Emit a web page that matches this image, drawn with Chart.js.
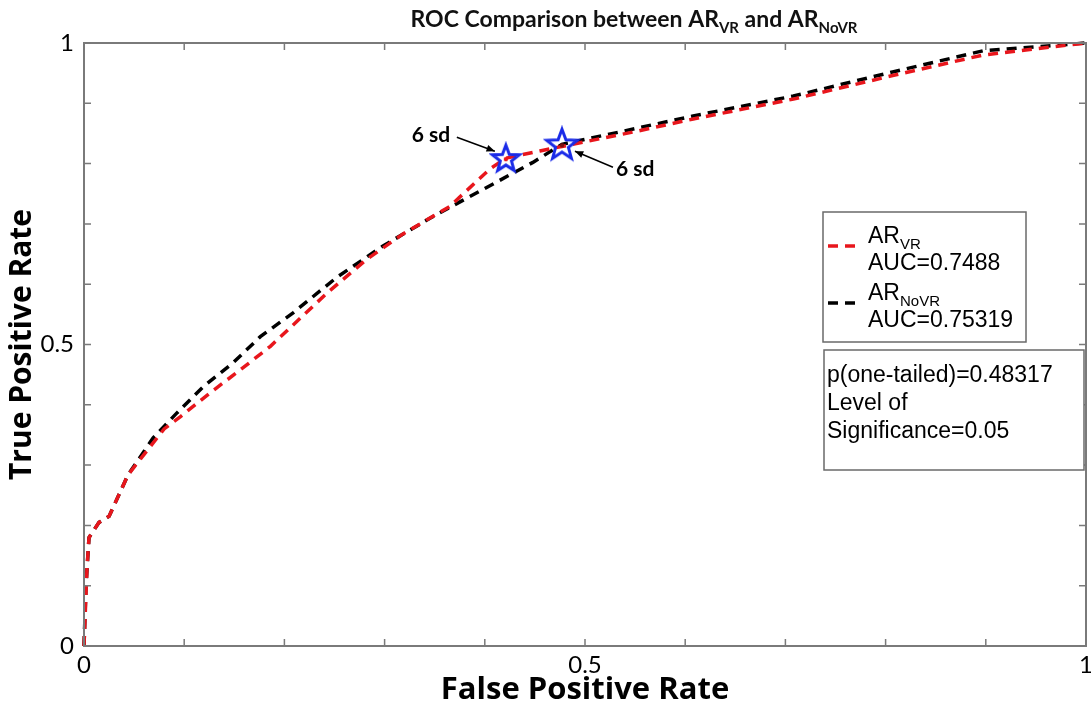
<!DOCTYPE html>
<html>
<head>
<meta charset="utf-8">
<script src="https://cdn.jsdelivr.net/npm/chart.js@4"></script>
<style>
  body { margin: 0; background: #fff; }
  canvas { display: block; }
</style>
</head>
<body>
<canvas id="rocChart" width="1091" height="702"></canvas>
<script>
// ROC curves
const fprVR   = [0, 0.003, 0.005, 0.015, 0.025, 0.044, 0.080, 0.096, 0.126, 0.156, 0.186, 0.243, 0.282, 0.318, 0.365, 0.405, 0.421, 0.455, 0.550, 0.608, 0.708, 0.807, 0.897, 1.0];
const tprVR   = [0, 0.130, 0.180, 0.205, 0.215, 0.284, 0.360, 0.380, 0.420, 0.458, 0.497, 0.586, 0.641, 0.683, 0.729, 0.791, 0.809, 0.821, 0.853, 0.874, 0.907, 0.946, 0.980, 1.0];
const fprNoVR = [0, 0.002, 0.005, 0.015, 0.025, 0.044, 0.069, 0.093, 0.119, 0.149, 0.176, 0.209, 0.252, 0.298, 0.347, 0.398, 0.448, 0.477, 0.550, 0.608, 0.708, 0.807, 0.897, 1.0];
const tprNoVR = [0, 0.100, 0.180, 0.205, 0.215, 0.284, 0.345, 0.387, 0.430, 0.470, 0.513, 0.553, 0.611, 0.663, 0.711, 0.757, 0.802, 0.832, 0.858, 0.879, 0.912, 0.952, 0.987, 1.0];

// "6 sd" operating points (VR, NoVR)
const starFpr = [0.421, 0.477];
const starTpr = [0.809, 0.832];

const tickLabels = {0: "0", 0.5: "0.5", 1: "1"};
const aucVR = "0.7488";
const aucNoVR = "0.75319";
const pOneTailed = "0.48317";
const sigLevel = "0.05";

function toPoints(xs, ys) {
  return xs.map((x, i) => ({x: x, y: ys[i]}));
}

function labelFor(v) {
  for (const k in tickLabels) {
    if (Math.abs(v - Number(k)) < 1e-9) return tickLabels[k];
  }
  return "";
}

function makeStar(dotColor, ro) {
  const c = document.createElement("canvas");
  const size = ro * 2 + 6;
  c.width = size; c.height = size;
  const g = c.getContext("2d");
  const cx = size / 2, cy = size / 2 + 1, ri = ro * 0.42;
  g.beginPath();
  for (let i = 0; i < 10; i++) {
    const r = i % 2 == 0 ? ro : ri;
    const a = -Math.PI / 2 + i * Math.PI / 5;
    const px = cx + r * Math.cos(a), py = cy + r * Math.sin(a);
    if (i == 0) g.moveTo(px, py); else g.lineTo(px, py);
  }
  g.closePath();
  g.strokeStyle = "#1a2be8";
  g.lineWidth = 3;
  g.lineJoin = "miter";
  g.stroke();
  g.fillStyle = dotColor;
  g.beginPath();
  g.arc(cx, cy, 2.2, 0, Math.PI * 2);
  g.fill();
  return c;
}

// draws text with subscripts: parts = [[text, isSub], ...]
function drawRich(ctx, parts, x, y, size, weight, family, align) {
  const subSize = Math.round(size * 0.65);
  let total = 0;
  parts.forEach(p => {
    ctx.font = weight + " " + (p[1] ? subSize : size) + "px " + family;
    total += ctx.measureText(p[0]).width;
  });
  let cx = align == "center" ? x - total / 2 : x;
  ctx.textAlign = "left";
  ctx.textBaseline = "alphabetic";
  parts.forEach(p => {
    ctx.font = weight + " " + (p[1] ? subSize : size) + "px " + family;
    ctx.fillText(p[0], cx, p[1] ? y + size * 0.25 : y);
    cx += ctx.measureText(p[0]).width;
  });
}

function arrow(ctx, x1, y1, x2, y2) {
  ctx.strokeStyle = "#000";
  ctx.fillStyle = "#000";
  ctx.lineWidth = 1.5;
  ctx.beginPath();
  ctx.moveTo(x1, y1);
  ctx.lineTo(x2, y2);
  ctx.stroke();
  const a = Math.atan2(y2 - y1, x2 - x1);
  ctx.beginPath();
  ctx.moveTo(x2, y2);
  ctx.lineTo(x2 - 9 * Math.cos(a - 0.4), y2 - 9 * Math.sin(a - 0.4));
  ctx.lineTo(x2 - 9 * Math.cos(a + 0.4), y2 - 9 * Math.sin(a + 0.4));
  ctx.closePath();
  ctx.fill();
}

const framePlugin = {
  id: "frame",
  afterDatasetsDraw(chart) {
    const ctx = chart.ctx;
    const a = chart.chartArea;
    const xs = chart.scales.x, ys = chart.scales.y;
    ctx.save();
    ctx.strokeStyle = "#7a7a7a";
    ctx.lineWidth = 2;
    ctx.strokeRect(a.left, a.top, a.right - a.left, a.bottom - a.top);
    ctx.lineWidth = 1.5;
    ctx.beginPath();
    xs.ticks.forEach(t => {
      const px = xs.getPixelForValue(t.value);
      ctx.moveTo(px, a.bottom); ctx.lineTo(px, a.bottom - 7);
      ctx.moveTo(px, a.top); ctx.lineTo(px, a.top + 7);
    });
    ys.ticks.forEach(t => {
      const py = ys.getPixelForValue(t.value);
      ctx.moveTo(a.left, py); ctx.lineTo(a.left + 7, py);
      ctx.moveTo(a.right, py); ctx.lineTo(a.right - 7, py);
    });
    ctx.stroke();

    // "6 sd" notes next to the stars
    const sVR = {x: xs.getPixelForValue(starFpr[0]), y: ys.getPixelForValue(starTpr[0])};
    const sNo = {x: xs.getPixelForValue(starFpr[1]), y: ys.getPixelForValue(starTpr[1])};
    ctx.fillStyle = "#000";
    ctx.font = "bold 21px Lato";
    ctx.textAlign = "left";
    ctx.fillText("6 sd", sVR.x - 94, sVR.y - 16);
    ctx.fillText("6 sd", sNo.x + 54, sNo.y + 32);
    arrow(ctx, sVR.x - 49, sVR.y - 21, sVR.x - 11, sVR.y - 7);
    arrow(ctx, sNo.x + 51, sNo.y + 23, sNo.x + 13, sNo.y + 7);

    // title
    ctx.fillStyle = "#111";
    drawRich(ctx, [["ROC Comparison between AR", false], ["VR", true], [" and AR", false], ["NoVR", true]],
      634, 27, 23, "bold", "Lato", "center");

    // legend box
    ctx.fillStyle = "#fff";
    ctx.fillRect(823, 212, 203, 130);
    ctx.strokeStyle = "#6a6a6a";
    ctx.lineWidth = 1.5;
    ctx.strokeRect(823, 212, 203, 130);
    ctx.lineWidth = 3.5;
    ctx.setLineDash([10, 7]);
    ctx.strokeStyle = "#e8161c";
    ctx.beginPath(); ctx.moveTo(828, 246); ctx.lineTo(858, 246); ctx.stroke();
    ctx.strokeStyle = "#000";
    ctx.beginPath(); ctx.moveTo(828, 303); ctx.lineTo(858, 303); ctx.stroke();
    ctx.setLineDash([]);
    ctx.fillStyle = "#000";
    drawRich(ctx, [["AR", false], ["VR", true]], 868, 243, 23, "normal", "'Liberation Sans'", "left");
    ctx.font = "23px 'Liberation Sans'";
    ctx.fillText("AUC=" + aucVR, 868, 270);
    drawRich(ctx, [["AR", false], ["NoVR", true]], 868, 300, 23, "normal", "'Liberation Sans'", "left");
    ctx.font = "23px 'Liberation Sans'";
    ctx.fillText("AUC=" + aucNoVR, 868, 327);

    // significance box
    ctx.fillStyle = "#fff";
    ctx.fillRect(824, 350, 260, 120);
    ctx.strokeStyle = "#6a6a6a";
    ctx.lineWidth = 1.5;
    ctx.strokeRect(824, 350, 260, 120);
    ctx.fillStyle = "#000";
    ctx.font = "23px 'Liberation Sans'";
    ctx.fillText("p(one-tailed)=" + pOneTailed, 827, 382);
    ctx.fillText("Level of", 827, 410);
    ctx.fillText("Significance=" + sigLevel, 827, 438);
    ctx.restore();
  }
};

const config = {
  type: "line",
  data: {
    datasets: [
      {
        label: "6 sd",
        data: toPoints(starFpr, starTpr),
        showLine: false,
        pointStyle: [makeStar("#e8161c", 14), makeStar("#7a1010", 16)],
        pointRadius: 16,
        clip: false
      },
      {
        label: "AR VR",
        data: toPoints(fprVR, tprVR),
        borderColor: "#e8161c",
        backgroundColor: "#e8161c",
        borderWidth: 3.5,
        borderDash: [10, 7],
        pointRadius: 0,
        tension: 0,
        clip: 5
      },
      {
        label: "AR NoVR",
        data: toPoints(fprNoVR, tprNoVR),
        borderColor: "#000",
        backgroundColor: "#000",
        borderWidth: 3.5,
        borderDash: [10, 7],
        pointRadius: 0,
        tension: 0,
        clip: 5
      }
    ]
  },
  options: {
    responsive: false,
    animation: false,
    devicePixelRatio: 1,
    layout: {autoPadding: false, padding: {left: 0, right: 5, top: 43, bottom: 0}},
    plugins: {legend: {display: false}, tooltip: {enabled: false}},
    scales: {
      x: {
        type: "linear", min: 0, max: 1,
        grid: {display: false, drawTicks: false},
        border: {display: false},
        ticks: {stepSize: 0.1, autoSkip: false, maxRotation: 0, padding: 5, color: "#000",
                font: {family: "Lato", size: 24}, callback: v => labelFor(v)},
        title: {display: true, text: "False Positive Rate", color: "#000", padding: {top: 0, bottom: -7},
                font: {family: "'Open Sans'", size: 31, weight: "bold"}},
        afterFit: s => { s.height = 56; s.paddingLeft = 0; s.paddingRight = 0; }
      },
      y: {
        type: "linear", min: 0, max: 1,
        grid: {display: false, drawTicks: false},
        border: {display: false},
        ticks: {stepSize: 0.1, autoSkip: false, padding: 10, color: "#000",
                font: {family: "Lato", size: 24}, callback: v => labelFor(v)},
        title: {display: true, text: "True Positive Rate", color: "#000", padding: {top: 4, bottom: 0},
                font: {family: "'Open Sans'", size: 30, weight: "bold"}},
        afterFit: s => { s.width = 84; s.paddingTop = 0; s.paddingBottom = 0; }
      }
    }
  },
  plugins: [framePlugin]
};

var rocChart = new Chart(document.getElementById("rocChart"), config);
</script>
</body>
</html>
